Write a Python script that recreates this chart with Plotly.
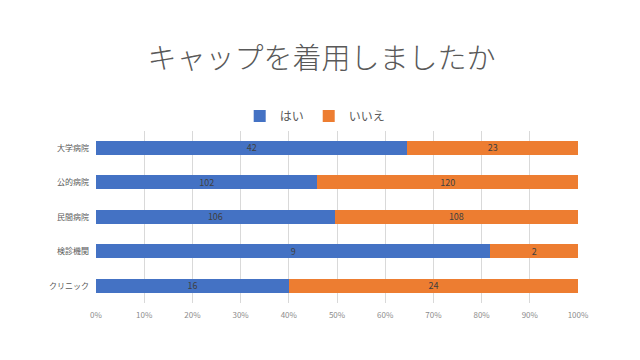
import plotly.graph_objects as go

categories = ["大学病院", "公的病院", "民間病院", "検診機関", "クリニック"]
yes_vals = [42, 102, 106, 9, 16]
no_vals = [23, 120, 108, 2, 24]
series_names = ["はい", "いいえ"]
tick_vals = [0, 10, 20, 30, 40, 50, 60, 70, 80, 90, 100]
tick_text = [f"{v}%" for v in tick_vals]

font_family = "Noto Sans CJK JP, Noto Sans, sans-serif"

fig = go.Figure()
fig.add_trace(go.Bar(
    y=categories, x=yes_vals, name=series_names[0], orientation="h",
    marker=dict(color="#4472C4", line=dict(width=0)),
    text=[str(v) for v in yes_vals], texttemplate="%{text}",
    textposition="inside", insidetextanchor="middle", textangle=0,
    constraintext="none",
    textfont=dict(color="#404040", size=9), cliponaxis=False,
))
fig.add_trace(go.Bar(
    y=categories, x=no_vals, name=series_names[1], orientation="h",
    marker=dict(color="#ED7D31", line=dict(width=0)),
    text=[str(v) for v in no_vals], texttemplate="%{text}",
    textposition="inside", insidetextanchor="middle", textangle=0,
    constraintext="none",
    textfont=dict(color="#404040", size=9), cliponaxis=False,
))

fig.update_layout(
    barmode="stack", barnorm="percent", bargap=0.6,
    width=640, height=360,
    margin=dict(l=88, r=70, t=120, b=65),
    paper_bgcolor="white", plot_bgcolor="white",
    font=dict(family=font_family, color="#595959", size=9),
    title=dict(text="キャップを着用しましたか", x=0.49, xanchor="center", xref="container",
               y=0.86, yanchor="middle",
               font=dict(size=29, color="#595959", family=font_family, weight=300)),
    legend=dict(orientation="h", x=0.48, xanchor="center", xref="container",
                y=0.70, yanchor="middle", yref="container",
                font=dict(size=12, color="#595959"), traceorder="normal",
                itemwidth=30),
    showlegend=True,
)
fig.update_xaxes(range=[0, 100.001], tickvals=tick_vals, ticktext=tick_text,
                 showgrid=True, gridcolor="#D9D9D9", gridwidth=1,
                 zeroline=False, showline=False, ticks="", automargin=False,
                 ticklabelstandoff=6,
                 tickfont=dict(size=8, color="#8C8C8C"))
fig.update_yaxes(autorange="reversed", showgrid=False, showline=False,
                 ticks="", ticklen=0, automargin=False, ticklabelstandoff=6,
                 tickfont=dict(size=8, color="#595959"))

fig.write_html("out.html")
